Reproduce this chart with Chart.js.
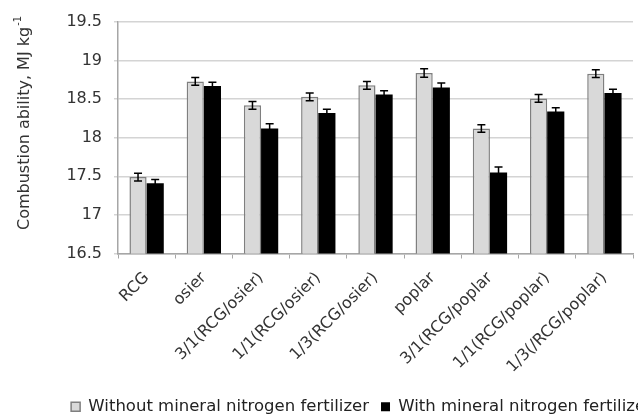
<!DOCTYPE html>
<html>
<head>
<meta charset="utf-8">
<script src="https://cdn.jsdelivr.net/npm/chart.js@4"></script>
<style>
  body { margin: 0; background: #fff; }
  #wrap { width: 638px; height: 419px; position: relative; }
</style>
</head>
<body>
<div id="wrap"><canvas id="fuelChart"></canvas></div>
<script>
const categories = ["RCG", "osier", "3/1(RCG/osier)", "1/1(RCG/osier)", "1/3(RCG/osier)",
  "poplar", "3/1(RCG/poplar", "1/1(RCG/poplar)", "1/3(/RCG/poplar)"];
const withoutN = [17.49, 18.73, 18.42, 18.53, 18.68, 18.84, 18.12, 18.51, 18.83];
const withN = [17.41, 18.67, 18.12, 18.32, 18.56, 18.65, 17.55, 18.34, 18.58];
const errWithoutN = [0.05, 0.05, 0.05, 0.05, 0.05, 0.055, 0.05, 0.05, 0.05];
const errWithN = [0.05, 0.05, 0.06, 0.05, 0.05, 0.06, 0.07, 0.05, 0.05];
const yTicks = [16.5, 17, 17.5, 18, 18.5, 19, 19.5];

const font = "DejaVu Sans";

// error bars drawn on top of each bar
const errorBars = {
  id: "errorBars",
  afterDatasetsDraw(chart) {
    const ctx = chart.ctx;
    const yScale = chart.scales.y;
    const errs = [errWithoutN, errWithN];
    ctx.save();
    ctx.strokeStyle = "#000";
    ctx.lineWidth = 1.5;
    chart.data.datasets.forEach((ds, i) => {
      const meta = chart.getDatasetMeta(i);
      meta.data.forEach((bar, j) => {
        const top = yScale.getPixelForValue(ds.data[j] + errs[i][j]);
        const bottom = yScale.getPixelForValue(ds.data[j] - errs[i][j]);
        ctx.beginPath();
        ctx.moveTo(bar.x, top);
        ctx.lineTo(bar.x, bottom);
        ctx.moveTo(bar.x - 4, top);
        ctx.lineTo(bar.x + 4, top);
        ctx.moveTo(bar.x - 4, bottom);
        ctx.lineTo(bar.x + 4, bottom);
        ctx.stroke();
      });
    });
    ctx.restore();
  }
};

// y title with superscript, sits a bit above the middle like the original
const yTitle = {
  id: "yTitle",
  afterDraw(chart) {
    const ctx = chart.ctx;
    ctx.save();
    ctx.translate(25, 230);
    ctx.rotate(-Math.PI / 2);
    ctx.fillStyle = "#333";
    ctx.textBaseline = "middle";
    ctx.textAlign = "left";
    ctx.font = "16px '" + font + "'";
    const main = "Combustion ability, MJ kg";
    ctx.fillText(main, 0, 0);
    const w = ctx.measureText(main).width;
    ctx.font = "10px '" + font + "'";
    ctx.fillText("-1", w + 1, -7);
    ctx.restore();
  }
};

// push the legend right and down, the original runs off the edge
const shiftLegend = {
  id: "shiftLegend",
  afterLayout(chart) {
    chart.legend.left += 45;
    chart.legend.right += 45;
    chart.legend.top += 6;
    chart.legend.bottom += 6;
  }
};

const ctx = document.getElementById("fuelChart").getContext("2d");
new Chart(ctx, {
  type: "bar",
  data: {
    labels: categories,
    datasets: [
      {
        label: "Without mineral nitrogen fertilizer",
        data: withoutN,
        backgroundColor: "#d9d9d9",
        borderColor: "#7f7f7f",
        borderWidth: 1.5
      },
      {
        label: "With mineral nitrogen fertilizer",
        data: withN,
        backgroundColor: "#000",
        borderColor: "#000",
        borderWidth: 0
      }
    ]
  },
  options: {
    responsive: true,
    maintainAspectRatio: false,
    animation: false,
    layout: { padding: { top: 22, right: 5, left: 0, bottom: 0 } },
    plugins: {
      tooltip: { enabled: false },
      legend: {
        position: "bottom",
        labels: {
          font: { family: font, size: 16.5 },
          color: "#222",
          boxWidth: 9,
          boxHeight: 9,
          padding: 12
        }
      }
    },
    datasets: {
      bar: { categoryPercentage: 0.6, barPercentage: 1 }
    },
    scales: {
      x: {
        grid: { drawOnChartArea: false, color: "#a6a6a6", tickLength: 5 },
        border: { color: "#a6a6a6", width: 1.5 },
        ticks: {
          autoSkip: false,
          minRotation: 45,
          maxRotation: 45,
          padding: 10,
          color: "#333",
          font: { family: font, size: 16 }
        },
        afterFit(scale) { scale.height = 127; }
      },
      y: {
        min: 16.5,
        max: 19.5,
        afterBuildTicks(scale) {
          scale.ticks = yTicks.map(v => ({ value: v }));
        },
        grid: { color: "#d4d4d4", lineWidth: 1.5, tickLength: 4 },
        border: { color: "#a6a6a6", width: 1.5 },
        ticks: {
          padding: 12,
          color: "#333",
          font: { family: font, size: 16 },
          callback: v => String(v)
        },
        afterFit(scale) { scale.width = 118; }
      }
    }
  },
  plugins: [errorBars, yTitle, shiftLegend]
});
</script>
</body>
</html>
